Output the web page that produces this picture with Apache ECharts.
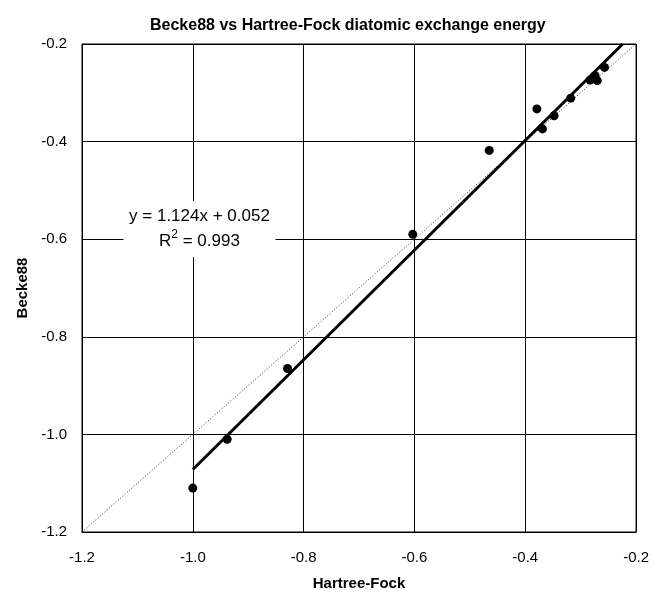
<!DOCTYPE html>
<html>
<head>
<meta charset="utf-8">
<script src="https://cdn.jsdelivr.net/npm/echarts@6.0.0/dist/echarts.min.js"></script>
<style>
html, body { margin: 0; padding: 0; background: #fff; }
#chart { width: 652px; height: 596px; }
</style>
</head>
<body>
<div id="chart"></div>
<script>
// Hartree-Fock (x) vs Becke88 (y) exchange energies
const hartreeFock = [-1.0, -0.938, -0.829, -0.603, -0.465, -0.379, -0.369, -0.348, -0.318, -0.283, -0.274, -0.27, -0.257];
const becke88 = [-1.11, -1.01, -0.865, -0.59, -0.418, -0.333, -0.374, -0.347, -0.311, -0.274, -0.265, -0.275, -0.248];

// linear trendline from the figure
const fitSlope = 1.124;
const fitIntercept = 0.052;
const fitR2 = 0.993;
const fitStartX = -1.0;

const axisMin = -1.2;
const axisMax = -0.2;
const axisStep = 0.2;

const points = hartreeFock.map((x, i) => [x, becke88[i]]);
const fitEndX = (axisMax - fitIntercept) / fitSlope;
const fitLine = [fitStartX, fitEndX].map((x) => [x, fitSlope * x + fitIntercept]);
const diagonal = [[axisMin, axisMin], [axisMax, axisMax]];

const font = "'Liberation Sans', Arial, sans-serif";

const chart = echarts.init(document.getElementById("chart"));

const valueAxis = (name, gap, labelMargin) => ({
  type: "value",
  min: axisMin,
  max: axisMax,
  interval: axisStep,
  name: name,
  nameLocation: "middle",
  nameGap: gap,
  nameTextStyle: { fontFamily: font, fontSize: 15, fontWeight: "bold", color: "#000" },
  axisLine: { show: true, onZero: false, lineStyle: { color: "#000", width: 1 } },
  axisTick: { show: false },
  splitLine: { show: true, lineStyle: { color: "#000", width: 1 } },
  axisLabel: {
    fontFamily: font,
    fontSize: 15,
    color: "#000",
    margin: labelMargin,
    formatter: (v) => v.toFixed(1),
  },
});

chart.setOption({
  animation: false,
  backgroundColor: "#fff",
  title: {
    text: "Becke88 vs Hartree-Fock diatomic exchange energy",
    left: 145,
    top: 13,
    textStyle: { fontFamily: font, fontSize: 16, fontWeight: "bold", color: "#000" },
  },
  grid: { left: 82, right: 14, top: 44, bottom: 62, show: true, borderColor: "#000", borderWidth: 1 },
  xAxis: valueAxis("Hartree-Fock", 44, 18),
  yAxis: valueAxis("Becke88", 52, 15),
  series: [
    {
      name: "y = x",
      type: "line",
      data: diagonal,
      symbol: "none",
      lineStyle: { color: "#333", width: 1, type: [1, 2] },
      z: 2,
    },
    {
      name: "trend",
      type: "line",
      data: fitLine,
      symbol: "none",
      clip: true,
      lineStyle: { color: "#000", width: 3 },
      z: 3,
      markPoint: {
        symbol: "rect",
        symbolSize: [152, 56],
        itemStyle: { color: "#fff" },
        label: {
          show: true,
          position: "inside",
          formatter: "{n|y = " + fitSlope.toFixed(3) + "x + " + fitIntercept.toFixed(3) + "}\n{n|R}{s|2}{n| = " + fitR2.toFixed(3) + "}",
          rich: {
            n: { fontFamily: font, fontSize: 17, lineHeight: 25, color: "#000" },
            s: { fontFamily: font, fontSize: 12, lineHeight: 18, verticalAlign: "top", color: "#000" },
          },
        },
        data: [{ coord: [-0.988, -0.579] }],
      },
    },
    {
      name: "data",
      type: "scatter",
      data: points,
      symbol: "circle",
      symbolSize: 9,
      itemStyle: { color: "#000", opacity: 1 },
      z: 4,
    },
  ],
});
</script>
</body>
</html>
